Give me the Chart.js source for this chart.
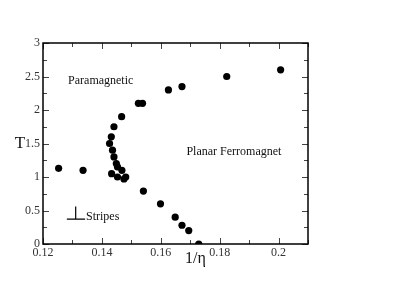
<!DOCTYPE html>
<html>
<head>
<meta charset="utf-8">
<script src="https://cdn.jsdelivr.net/npm/chart.js@4/dist/chart.umd.min.js"></script>
<style>
  html, body { margin: 0; padding: 0; background: #fff; }
  canvas { display: block; }
</style>
</head>
<body>
<canvas id="c" width="410" height="289"></canvas>
<script>
// ---- data ----
const invEta = [0.1253, 0.1336, 0.1426, 0.1432, 0.1441, 0.1467, 0.1436, 0.1441, 0.1449, 0.1453,
                0.1468, 0.1433, 0.1453, 0.1475, 0.1481, 0.1524, 0.1538, 0.1626, 0.1672, 0.1824,
                0.2007, 0.1541, 0.1599, 0.1649, 0.1672, 0.1695, 0.1729];
const temps  = [1.13, 1.10, 1.50, 1.60, 1.75, 1.90, 1.40, 1.30, 1.20, 1.15,
                1.10, 1.05, 1.00, 0.97, 1.00, 2.10, 2.10, 2.30, 2.35, 2.50,
                2.60, 0.79, 0.60, 0.40, 0.28, 0.20, 0.00];
const xTicks = [0.12, 0.14, 0.16, 0.18, 0.2];
const yTicks = [0, 0.5, 1, 1.5, 2, 2.5, 3];
const xMinorStep = 0.01;
const yMinorStep = 0.25;
const regionLabels = [
  { text: 'Paramagnetic', x: 0.1396, y: 2.44, align: 'center' },
  { text: 'Planar Ferromagnet', x: 0.1687, y: 1.38, align: 'left' },
  { text: 'Stripes', x: 0.1346, y: 0.40, align: 'left' }
];
const stripeSymbol = { x0: 0.1281, x1: 0.1343, xv: 0.1311, yBase: 0.37, yTop: 0.56 };
const xTitle = { text: '1/\u03B7', x: 0.1718 };
const yTitle = { text: 'T', y: 1.5 };

const points = invEta.map((x, i) => ({ x: x, y: temps[i] }));
const serif = "'Liberation Serif', 'Times New Roman', serif";

const decor = {
  id: 'decor',
  afterDraw(chart) {
    const ctx = chart.ctx;
    const xs = chart.scales.x, ys = chart.scales.y;
    const a = chart.chartArea;
    ctx.save();
    // inward ticks on all four sides
    ctx.strokeStyle = '#444';
    ctx.lineWidth = 1;
    const isMajor = (v, arr) => arr.some(t => Math.abs(t - v) < 1e-9);
    for (let v = xs.min; v <= xs.max + 1e-9; v += xMinorStep) {
      const px = Math.round(xs.getPixelForValue(v)) + 0.5;
      const len = isMajor(v, xTicks) ? 6 : 4;
      ctx.beginPath();
      ctx.moveTo(px, a.bottom); ctx.lineTo(px, a.bottom - len);
      ctx.moveTo(px, a.top); ctx.lineTo(px, a.top + len);
      ctx.stroke();
    }
    for (let v = ys.min; v <= ys.max + 1e-9; v += yMinorStep) {
      const py = Math.round(ys.getPixelForValue(v)) + 0.5;
      const len = isMajor(v, yTicks) ? 6 : 4;
      ctx.beginPath();
      ctx.moveTo(a.left, py); ctx.lineTo(a.left + len, py);
      ctx.moveTo(a.right, py); ctx.lineTo(a.right - len, py);
      ctx.stroke();
    }
    // frame
    ctx.strokeStyle = '#000';
    ctx.lineWidth = 1.5;
    ctx.strokeRect(a.left, a.top, a.right - a.left, a.bottom - a.top);

    // region labels
    ctx.fillStyle = '#111';
    ctx.font = '12px ' + serif;
    ctx.textBaseline = 'middle';
    regionLabels.forEach(l => {
      ctx.textAlign = l.align;
      ctx.fillText(l.text, xs.getPixelForValue(l.x), ys.getPixelForValue(l.y));
    });
    // stripes symbol
    ctx.strokeStyle = '#000';
    ctx.lineWidth = 1.2;
    const yb = ys.getPixelForValue(stripeSymbol.yBase);
    ctx.beginPath();
    ctx.moveTo(xs.getPixelForValue(stripeSymbol.x0), yb);
    ctx.lineTo(xs.getPixelForValue(stripeSymbol.x1), yb);
    const xv = xs.getPixelForValue(stripeSymbol.xv);
    ctx.moveTo(xv, yb);
    ctx.lineTo(xv, ys.getPixelForValue(stripeSymbol.yTop));
    ctx.stroke();

    // axis titles
    ctx.fillStyle = '#111';
    ctx.textAlign = 'center';
    ctx.font = '16px ' + serif;
    ctx.fillText(xTitle.text, xs.getPixelForValue(xTitle.x), a.bottom + 15);
    ctx.font = '17px ' + serif;
    ctx.fillText(yTitle.text, a.left - 23, ys.getPixelForValue(yTitle.y));
    ctx.restore();
  }
};

new Chart(document.getElementById('c'), {
  type: 'scatter',
  data: {
    datasets: [{
      data: points,
      pointRadius: 3.6,
      pointBackgroundColor: '#000',
      pointBorderWidth: 0,
      showLine: false
    }]
  },
  options: {
    responsive: false,
    animation: false,
    devicePixelRatio: 1,
    layout: { padding: { top: 43, right: 102, left: 0, bottom: 0 } },
    plugins: { legend: { display: false }, tooltip: { enabled: false } },
    scales: {
      x: {
        type: 'linear', min: 0.12, max: 0.21,
        afterBuildTicks: s => { s.ticks = xTicks.map(v => ({ value: v })); },
        afterFit: s => { s.height = 45; },
        grid: { display: false, drawTicks: false },
        border: { display: false },
        ticks: {
          padding: 2, autoSkip: false, maxRotation: 0, color: '#333',
          font: { family: serif, size: 12 },
          callback: v => String(v)
        }
      },
      y: {
        type: 'linear', min: 0, max: 3,
        afterBuildTicks: s => { s.ticks = yTicks.map(v => ({ value: v })); },
        afterFit: s => { s.width = 43; },
        grid: { display: false, drawTicks: false },
        border: { display: false },
        ticks: {
          padding: 3, autoSkip: false, color: '#333',
          font: { family: serif, size: 12 },
          callback: v => String(v)
        }
      }
    }
  },
  plugins: [decor]
});
</script>
</body>
</html>
